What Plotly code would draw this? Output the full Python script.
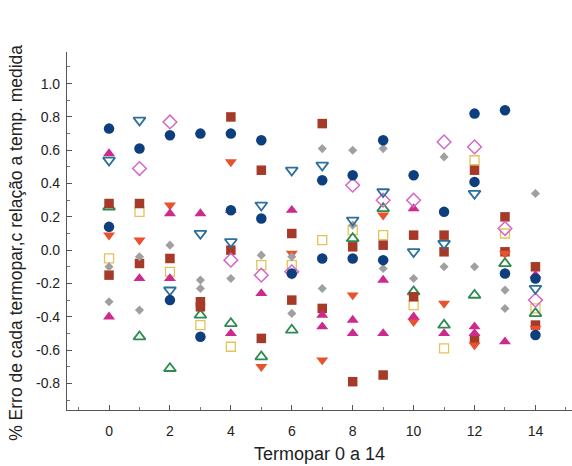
import plotly.graph_objects as go

# ---- data (x = thermocouple index, y = % error) ----
navy_x = [0, 0, 1, 2, 2, 3, 3, 4, 4, 5, 5, 6, 7, 7, 8, 8, 9, 9, 10, 11, 12, 12, 13, 13, 14, 14]
navy_y = [0.73, 0.14, 0.61, 0.69, -0.30, 0.70, -0.52, 0.70, 0.24, 0.66, 0.19, -0.14, 0.42, -0.05,
          0.45, -0.05, 0.66, -0.06, 0.45, 0.23, 0.82, 0.41, 0.84, -0.14, -0.17, -0.51]

tridown_open_x = [0, 1, 2, 3, 4, 5, 6, 7, 8, 9, 10, 11, 12, 14]
tridown_open_y = [0.54, 0.78, -0.24, 0.10, 0.05, 0.27, 0.48, 0.51, 0.18, 0.35, -0.01, 0.04, 0.34, -0.23]

diamond_open_x = [1, 2, 4, 5, 6, 8, 9, 10, 11, 12, 13, 14]
diamond_open_y = [0.49, 0.77, -0.06, -0.15, -0.13, 0.39, 0.30, 0.30, 0.65, 0.62, 0.13, -0.30]

gray_x = [0, 0, 1, 1, 2, 3, 3, 4, 5, 6, 6, 7, 7, 8, 8, 9, 9, 10, 11, 11, 12, 13, 13, 14]
gray_y = [-0.10, -0.31, -0.04, -0.36, 0.03, -0.18, -0.23, -0.17, -0.03, -0.04, -0.38, 0.61, -0.23,
          0.60, 0.15, 0.61, -0.11, -0.17, 0.56, -0.10, -0.10, -0.24, -0.35, 0.34]

square_x = [0, 0, 1, 1, 2, 3, 3, 4, 4, 5, 5, 6, 6, 7, 7, 8, 8, 9, 9, 10, 10, 11, 11, 12, 12, 13, 13, 14, 14]
square_y = [0.28, -0.15, 0.28, -0.08, -0.05, -0.31, -0.34, 0.80, 0.00, 0.48, -0.53, 0.10, -0.30,
            0.76, -0.35, 0.02, -0.79, 0.03, -0.75, 0.09, -0.28, 0.09, -0.01, 0.48, -0.53, 0.20, -0.01,
            -0.10, -0.45]

tridown_x = [0, 1, 2, 4, 5, 6, 7, 8, 9, 10, 11, 12, 13, 14]
tridown_y = [0.09, 0.06, 0.27, 0.53, -0.70, -0.02, -0.66, -0.27, 0.21, -0.43, -0.32, -0.57, -0.02, -0.47]

triup_x = [0, 0, 1, 2, 2, 3, 4, 4, 5, 6, 7, 7, 8, 8, 9, 9, 10, 10, 11, 12, 12, 13, 14]
triup_y = [0.58, -0.40, -0.17, 0.22, -0.17, 0.22, 0.24, -0.50, -0.26, 0.24, -0.39, -0.46, -0.42,
           -0.50, -0.50, -0.18, 0.25, -0.40, -0.50, -0.46, -0.50, -0.55, -0.15]

triup_open_x = [0, 1, 2, 3, 4, 5, 6, 8, 9, 10, 11, 12, 13, 14]
triup_open_y = [0.26, -0.52, -0.71, -0.39, -0.44, -0.64, -0.48, 0.07, 0.25, -0.25, -0.45, -0.27, -0.08, -0.38]

square_open_x = [0, 1, 2, 3, 4, 5, 6, 7, 8, 9, 10, 11, 12, 13, 14]
square_open_y = [-0.05, 0.23, -0.13, -0.45, -0.58, -0.09, -0.09, 0.06, 0.12, 0.09, -0.33, -0.59, 0.54, 0.10, -0.35]

y_tickvals = [-0.8, -0.6, -0.4, -0.2, 0.0, 0.2, 0.4, 0.6, 0.8, 1.0]
y_ticktext = ["-0.8", "-0.6", "-0.4", "-0.2", "0.0", "0.2", "0.4", "0.6", "0.8", "1.0"]
x_tickvals = [0, 2, 4, 6, 8, 10, 12, 14]

# ---- figure ----
fig = go.Figure()

def add(x, y, symbol, color, size, lw=0):
    fig.add_trace(go.Scatter(
        x=x, y=y, mode="markers", showlegend=False,
        marker=dict(symbol=symbol, size=size, color=color,
                    line=dict(color=color, width=lw))))

add(square_open_x, square_open_y, "square-open", "#e6c25a", 9, lw=1.3)
add(triup_open_x, triup_open_y, "triangle-up-open", "#2e8a50", 10.5, lw=1.8)
add(square_x, square_y, "square", "#a63a28", 9.5)
add(tridown_x, tridown_y, "triangle-down", "#e8522e", 10.5)
add(triup_x, triup_y, "triangle-up", "#cc2a8c", 10.5)
add(gray_x, gray_y, "diamond", "#a0a0a0", 7)
add(diamond_open_x, diamond_open_y, "diamond-open", "#d468c8", 10.5, lw=1.5)
add(tridown_open_x, tridown_open_y, "triangle-down-open", "#2d6f9c", 10.5, lw=1.8)
add(navy_x, navy_y, "circle", "#0d3f7e", 10.5)

font = "Liberation Sans, Arial, sans-serif"
fig.update_layout(
    width=572, height=466,
    margin=dict(l=67, r=0, t=52, b=56),
    paper_bgcolor="white", plot_bgcolor="white",
    font=dict(family=font, color="#222222", size=14),
    xaxis=dict(
        range=[-1.38, 15.2], tickvals=x_tickvals, ticks="inside", ticklen=5,
        tickcolor="#555555", showline=True, linecolor="#555555", linewidth=1.2,
        showgrid=False, zeroline=False, tickfont=dict(size=14), ticklabelstandoff=8,
        minor=dict(dtick=1, tick0=0, ticks="inside", ticklen=3, tickcolor="#777777"),
        title=dict(text="Termopar 0 a 14", font=dict(size=18), standoff=9),
    ),
    yaxis=dict(
        range=[-0.96, 1.19], tickvals=y_tickvals, ticktext=y_ticktext, ticks="inside",
        ticklen=5, tickcolor="#555555", showline=True, linecolor="#555555", linewidth=1.2,
        showgrid=False, zeroline=False, tickfont=dict(size=14), ticklabelstandoff=3,
        minor=dict(dtick=0.1, tick0=0, ticks="inside", ticklen=3, tickcolor="#777777"),
    ),
    annotations=[dict(
        text="% Erro de cada termopar,c relação a temp. medida",
        xref="paper", yref="paper", x=-0.101, y=0.467, textangle=-90,
        xanchor="center", yanchor="middle", showarrow=False,
        font=dict(size=17.5, family=font, color="#222222"),
    )],
)

fig.write_html("out.html")
